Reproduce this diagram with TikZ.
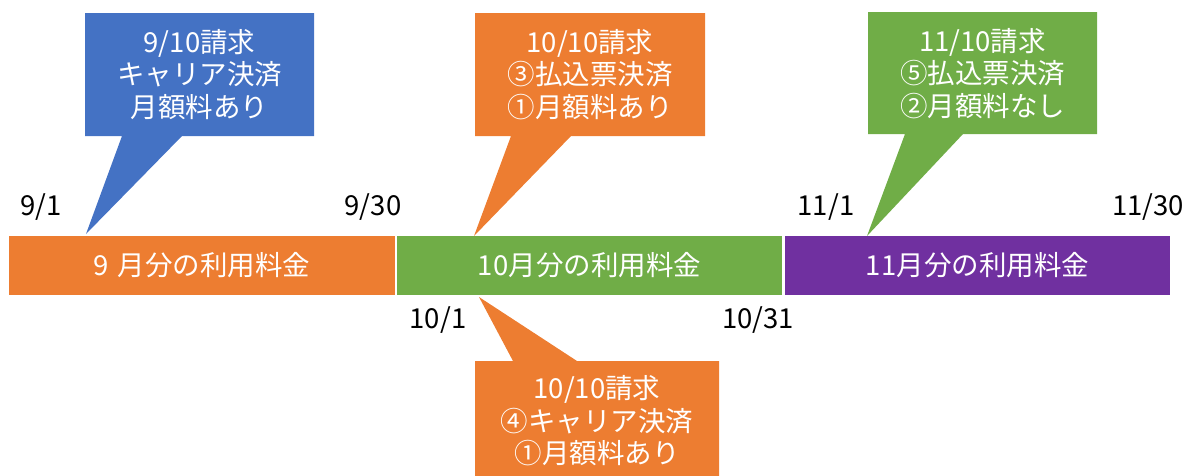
\documentclass[tikz,border=0pt]{standalone}
\usepackage{fontspec}
\setmainfont{Noto Sans CJK JP}
\definecolor{cblue}{HTML}{4472C4}
\definecolor{corange}{HTML}{ED7D31}
\definecolor{cgreen}{HTML}{70AD47}
\definecolor{cpurple}{HTML}{7030A0}
\begin{document}
\begin{tikzpicture}[x=1pt,y=-1pt,
  bar/.style={anchor=north west, inner sep=0pt, outer sep=0pt, text=white,
    minimum width=386pt, minimum height=59pt, font=\fontsize{27.5}{32}\selectfont},
  calltext/.style={text=white, align=center, inner sep=0pt, font=\fontsize{27.5}{32.5}\selectfont},
  datelbl/.style={text=black, inner sep=0pt, font=\fontsize{27.5}{30}\selectfont}]
\useasboundingbox (0,0) rectangle (1186,475);
\begin{scope}
\clip (0,0) rectangle (1186,475);
% bars
\node[bar, fill=corange] (b9) at (9,236) {9\hspace{0.3em}月分の利用料金};
\node[bar, fill=cgreen, minimum width=385pt] (b10) at (397,236) {10月分の利用料金};
\node[bar, fill=cpurple, minimum width=385pt] (b11) at (785,236) {11月分の利用料金};
% callout shapes
\fill[cblue] (85,13) -- (314,13) -- (314,136) -- (182,136) -- (86,234) -- (122,136) -- (85,136) -- cycle;
\fill[corange] (475,13) -- (705,13) -- (705,136) -- (571,136) -- (474,236) -- (511,136) -- (475,136) -- cycle;
\fill[cgreen] (868,12) -- (1097,12) -- (1097,134) -- (963,134) -- (867,236) -- (905,134) -- (868,134) -- cycle;
\fill[corange] (475,361) -- (513,361) -- (479,297) -- (577,361) -- (719,361) -- (719,476) -- (475,476) -- cycle;
% callout texts
\node[calltext] (t9) at (199.5,74.5) {9/10請求\\キャリア決済\\月額料あり};
\node[calltext] (t10a) at (590,74.5) {10/10請求\\③払込票決済\\①月額料あり};
\node[calltext] (t11) at (982.5,73.5) {11/10請求\\⑤払込票決済\\②月額料なし};
\node[calltext] (t10b) at (597,421) {10/10請求\\④キャリア決済\\①月額料あり};
% date labels
\node[datelbl] (d91) at (41,207) {9/1};
\node[datelbl] (d930) at (373,207) {9/30};
\node[datelbl] (d101) at (438,320) {10/1};
\node[datelbl] (d1031) at (758,320) {10/31};
\node[datelbl] (d111) at (826,207) {11/1};
\node[datelbl] (d1130) at (1148,207) {11/30};
\end{scope}
\end{tikzpicture}
\end{document}
